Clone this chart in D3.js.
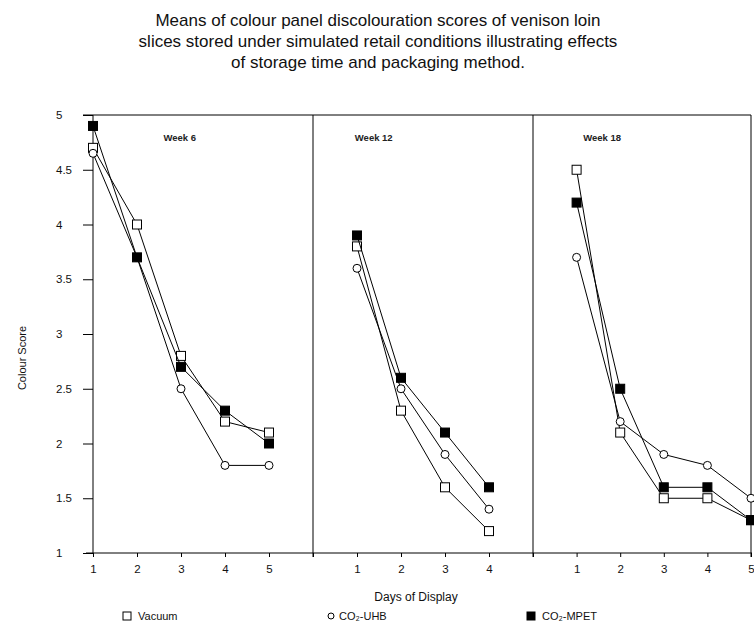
<!DOCTYPE html>
<meta charset="utf-8">
<style>
body { margin: 0; background: white; }
svg { font-family: "Liberation Sans", Arial, Helvetica, sans-serif; }
.series line, .series path { stroke: #000; fill: none; stroke-width: 1; }
</style>
<svg width="754" height="625">
    <rect width="100%" height="100%" fill="white"/>
</svg>
<script src="https://d3js.org/d3.v7.min.js"></script>
<script>

var titleLines = ["Means of colour panel discolouration scores of venison loin",
                  "slices stored under simulated retail conditions illustrating effects",
                  "of storage time and packaging method."];

var panels = ["Week 6", "Week 12", "Week 18"];
var yTicks = [1, 1.5, 2, 2.5, 3, 3.5, 4, 4.5, 5];
var yTickLabels = ["1", "1.5", "2", "2.5", "3", "3.5", "4", "4.5", "5"];
var xTickLabels = [[1, 2, 3, 4, 5], [1, 2, 3, 4], [1, 2, 3, 4, 5]];
var seriesNames = ["Vacuum", "CO₂-UHB", "CO₂-MPET"];

// days of display per panel
var days = [[1, 2, 3, 4, 5], [1, 2, 3, 4], [1, 2, 3, 4, 5]];

// colour scores, one array per panel
var vacuum = [[4.7, 4.0, 2.8, 2.2, 2.1],
              [3.8, 2.3, 1.6, 1.2],
              [4.5, 2.1, 1.5, 1.5, 1.3]];
var co2uhb = [[4.65, 3.7, 2.5, 1.8, 1.8],
              [3.6, 2.5, 1.9, 1.4],
              [3.7, 2.2, 1.9, 1.8, 1.5]];
var co2mpet = [[4.9, 3.7, 2.7, 2.3, 2.0],
               [3.9, 2.6, 2.1, 1.6],
               [4.2, 2.5, 1.6, 1.6, 1.3]];

var svg = d3.select("svg");

var y = d3.scaleLinear().domain([1, 5]).range([553, 115]);

// each panel has its own day scale
var xs = [
    d3.scaleLinear().domain([1, 6]).range([93, 313]),
    d3.scaleLinear().domain([0, 5]).range([313, 533]),
    d3.scaleLinear().domain([0, 5]).range([533, 751])
];
var weekLabelDay = [2.6, 0.95, 1.15];

// title
svg.append("g").selectAll("text")
    .data(titleLines)
    .enter().append("text")
    .attr("x", 378)
    .attr("y", function(d, i) { return 26 + i * 21; })
    .attr("text-anchor", "middle")
    .attr("font-size", "17px")
    .attr("fill", "#111")
    .text(function(d) { return d; });

// y axis
var yAxis = d3.axisLeft(y)
    .tickValues(yTicks)
    .tickSize(10)
    .tickFormat(function(d, i) { return yTickLabels[i]; });
var yg = svg.append("g").attr("transform", "translate(93,0)").call(yAxis);
yg.select(".domain").remove();
yg.selectAll("line").attr("stroke", "#000");
yg.selectAll("text")
    .attr("x", -37)
    .attr("text-anchor", "start")
    .attr("font-size", "11.5px")
    .attr("fill", "#111");

svg.append("text")
    .attr("transform", "translate(26,358) rotate(-90)")
    .attr("text-anchor", "middle")
    .attr("font-size", "11px")
    .attr("fill", "#111")
    .text("Colour Score");

// frame lines
svg.append("line").attr("x1", 83).attr("x2", 751).attr("y1", y(5)).attr("y2", y(5))
    .attr("stroke", "#000");
svg.append("line").attr("x1", 86).attr("x2", 752).attr("y1", y(1)).attr("y2", y(1))
    .attr("stroke", "#000");
svg.append("line").attr("x1", 93).attr("x2", 93).attr("y1", y(5)).attr("y2", y(1))
    .attr("stroke", "#000");

var allSeries = [vacuum, co2uhb, co2mpet];

panels.forEach(function(name, p) {
    var x = xs[p];
    var dom = x.domain();

    // right border of panel
    svg.append("line")
        .attr("x1", x(dom[1])).attr("x2", x(dom[1]))
        .attr("y1", y(5)).attr("y2", y(1) + 4)
        .attr("stroke", "#000");

    var ticks = d3.range(dom[0], dom[1] + 1);
    var xAxis = d3.axisBottom(x)
        .tickValues(ticks)
        .tickSize(4)
        .tickFormat(function(d) { return xTickLabels[p].indexOf(d) >= 0 ? d : ""; });
    var xg = svg.append("g").attr("transform", "translate(0," + y(1) + ")").call(xAxis);
    xg.select(".domain").remove();
    xg.selectAll("line").attr("stroke", "#000");
    xg.selectAll("text")
        .attr("y", 12)
        .attr("font-size", "11.5px")
        .attr("fill", "#111");

    svg.append("text")
        .attr("x", x(weekLabelDay[p]))
        .attr("y", 141)
        .attr("font-size", "9.5px")
        .attr("font-weight", "bold")
        .attr("fill", "#222")
        .text(name);

    var line = d3.line()
        .x(function(d) { return x(d[0]); })
        .y(function(d) { return y(d[1]); });

    allSeries.forEach(function(s, k) {
        var pts = days[p].map(function(d, i) { return [d, s[p][i]]; });
        var g = svg.append("g").attr("class", "series");
        g.append("path").attr("d", line(pts));

        if (k == 1) {
            g.selectAll("circle").data(pts).enter().append("circle")
                .attr("cx", function(d) { return x(d[0]); })
                .attr("cy", function(d) { return y(d[1]); })
                .attr("r", 4)
                .attr("fill", "white")
                .attr("stroke", "#000");
        } else {
            g.selectAll("rect").data(pts).enter().append("rect")
                .attr("x", function(d) { return x(d[0]) - 4.5; })
                .attr("y", function(d) { return y(d[1]) - 4.5; })
                .attr("width", 9)
                .attr("height", 9)
                .attr("fill", k == 2 ? "#000" : "white")
                .attr("stroke", "#000");
        }
    });
});

// x axis title
svg.append("text")
    .attr("x", 416)
    .attr("y", 601)
    .attr("text-anchor", "middle")
    .attr("font-size", "12px")
    .attr("fill", "#111")
    .text("Days of Display");

// legend
var legendX = [127, 331, 531];
var lg = svg.append("g").selectAll("g")
    .data(seriesNames)
    .enter().append("g")
    .attr("transform", function(d, i) { return "translate(" + legendX[i] + ",616)"; });

lg.each(function(d, i) {
    var g = d3.select(this);
    if (i == 1) {
        g.append("circle").attr("r", 3).attr("fill", "white").attr("stroke", "#000");
    } else {
        g.append("rect").attr("x", -4).attr("y", -4).attr("width", 8).attr("height", 8)
            .attr("fill", i == 2 ? "#000" : "white").attr("stroke", "#000");
    }
    g.append("text")
        .attr("x", i == 1 ? 8 : 11)
        .attr("y", 4)
        .attr("font-size", "11px")
        .attr("fill", "#111")
        .text(d);
});

</script>
